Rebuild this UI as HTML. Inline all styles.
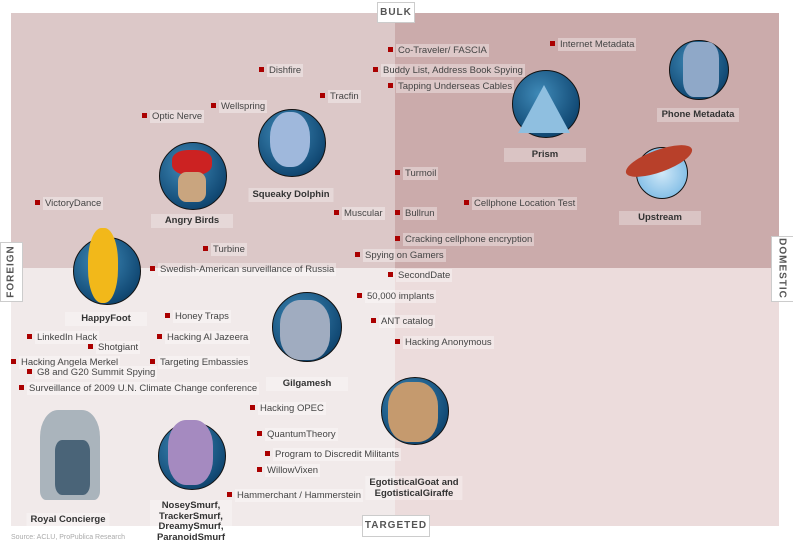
<!DOCTYPE html>
<html><head><meta charset="utf-8"><style>
body{margin:0;width:793px;height:547px;background:#fff;position:relative;overflow:hidden;font-family:"Liberation Sans",sans-serif}
.q{position:absolute}
.l{position:absolute;font-size:9.5px;color:#444;white-space:nowrap;line-height:11px;transform:translateY(-6px)}
.l span{background:rgba(255,255,255,0.35);padding:1px 2px}
.l i{display:inline-block;width:5px;height:5px;background:#a00;margin-right:3px;vertical-align:1px}
.n{position:absolute;font-size:9.5px;font-weight:bold;color:#333;text-align:center;background:rgba(255,255,255,0.3);line-height:12px;padding:1px 4px;transform:translateX(-50%);white-space:nowrap;min-width:74px}
.c{position:absolute;border-radius:50%;background:radial-gradient(circle at 40% 35%,#3f8ab8,#124a75 70%,#0a2a45);border:1px solid #111}
.ax{position:absolute;background:#fff;border:1px solid #ccc;font-size:10px;font-weight:bold;color:#555;letter-spacing:1px;text-align:center}
</style></head><body>
<div class="q" style="left:11px;top:13px;width:384px;height:255px;background:#dcc8c8"></div>
<div class="q" style="left:395px;top:13px;width:384px;height:255px;background:#cbabab"></div>
<div class="q" style="left:11px;top:268px;width:384px;height:258px;background:#f1eaea"></div>
<div class="q" style="left:395px;top:268px;width:384px;height:258px;background:#ecdcdc"></div>

<div class="ax" style="left:377px;top:2px;width:36px;height:19px;line-height:19px">BULK</div>
<div class="ax" style="left:362px;top:515px;width:66px;height:20px;line-height:20px">TARGETED</div>
<div class="ax" style="left:0px;top:242px;width:21px;height:58px"><div style="transform:rotate(-90deg);position:absolute;left:-19px;top:23px;width:58px">FOREIGN</div></div>
<div class="ax" style="left:771px;top:236px;width:21px;height:64px"><div style="transform:rotate(90deg);position:absolute;left:-22px;top:26px;width:64px">DOMESTIC</div></div>

<div class="c" style="left:159px;top:142px;width:66px;height:66px"></div>
<div class="c" style="left:258px;top:109px;width:66px;height:66px"></div>
<div class="c" style="left:512px;top:70px;width:66px;height:66px"></div>
<div class="c" style="left:669px;top:40px;width:58px;height:58px"></div>
<div class="c" style="left:636px;top:147px;width:50px;height:50px;background:radial-gradient(circle,#cfe8f8,#6ab0e0)"></div>
<div class="c" style="left:73px;top:237px;width:66px;height:66px"></div>
<div class="c" style="left:272px;top:292px;width:68px;height:68px"></div>
<div class="c" style="left:158px;top:422px;width:66px;height:66px"></div>
<div class="c" style="left:381px;top:377px;width:66px;height:66px"></div>
<div class="q" style="left:172px;top:150px;width:40px;height:25px;background:#c22;border-radius:40%"></div>
<div class="q" style="left:178px;top:172px;width:28px;height:30px;background:#c9a57f;border-radius:30%"></div>
<div class="q" style="left:270px;top:112px;width:40px;height:55px;background:#9fb8dc;border-radius:45%"></div>
<div class="q" style="left:518px;top:85px;width:52px;height:48px;background:#8fbfe0;clip-path:polygon(50% 0,100% 100%,0 100%)"></div>
<div class="q" style="left:683px;top:42px;width:36px;height:55px;background:#8fa8c8;border-radius:30%"></div>
<div class="q" style="left:624px;top:150px;width:70px;height:22px;background:#b8402a;border-radius:50%;transform:rotate(-20deg)"></div>
<div class="q" style="left:88px;top:228px;width:30px;height:75px;background:#f2b81a;border-radius:45%"></div>
<div class="q" style="left:280px;top:300px;width:50px;height:60px;background:#a0acc0;border-radius:40%"></div>
<div class="q" style="left:168px;top:420px;width:45px;height:65px;background:#a58ac0;border-radius:40%"></div>
<div class="q" style="left:388px;top:382px;width:50px;height:60px;background:#c59a6e;border-radius:40%"></div>
<div class="q" style="left:40px;top:410px;width:60px;height:90px;background:#aab4bc;border-radius:30% 30% 10% 10%"></div>
<div class="q" style="left:55px;top:440px;width:35px;height:55px;background:#4a6478;border-radius:20%"></div>

<div class="n" style="left:192px;top:214px">Angry Birds</div>
<div class="n" style="left:291px;top:188px">Squeaky Dolphin</div>
<div class="n" style="left:545px;top:148px">Prism</div>
<div class="n" style="left:698px;top:108px">Phone Metadata</div>
<div class="n" style="left:660px;top:211px">Upstream</div>
<div class="n" style="left:106px;top:312px">HappyFoot</div>
<div class="n" style="left:307px;top:377px">Gilgamesh</div>
<div class="n" style="left:68px;top:513px">Royal Concierge</div>
<div class="n" style="left:191px;top:500px;line-height:10.5px">NoseySmurf,<br>TrackerSmurf,<br>DreamySmurf,<br>ParanoidSmurf</div>
<div class="n" style="left:414px;top:476px;line-height:11px">EgotisticalGoat and<br>EgotisticalGiraffe</div>

<div class="l" style="left:388px;top:51px"><i></i><span>Co-Traveler/ FASCIA</span></div>
<div class="l" style="left:550px;top:45px"><i></i><span>Internet Metadata</span></div>
<div class="l" style="left:259px;top:71px"><i></i><span>Dishfire</span></div>
<div class="l" style="left:373px;top:71px"><i></i><span>Buddy List, Address Book Spying</span></div>
<div class="l" style="left:388px;top:87px"><i></i><span>Tapping Underseas Cables</span></div>
<div class="l" style="left:320px;top:97px"><i></i><span>Tracfin</span></div>
<div class="l" style="left:211px;top:107px"><i></i><span>Wellspring</span></div>
<div class="l" style="left:142px;top:117px"><i></i><span>Optic Nerve</span></div>
<div class="l" style="left:395px;top:174px"><i></i><span>Turmoil</span></div>
<div class="l" style="left:35px;top:204px"><i></i><span>VictoryDance</span></div>
<div class="l" style="left:334px;top:214px"><i></i><span>Muscular</span></div>
<div class="l" style="left:395px;top:214px"><i></i><span>Bullrun</span></div>
<div class="l" style="left:464px;top:204px"><i></i><span>Cellphone Location Test</span></div>
<div class="l" style="left:395px;top:240px"><i></i><span>Cracking cellphone encryption</span></div>
<div class="l" style="left:203px;top:250px"><i></i><span>Turbine</span></div>
<div class="l" style="left:355px;top:256px"><i></i><span>Spying on Gamers</span></div>
<div class="l" style="left:150px;top:270px"><i></i><span>Swedish-American surveillance of Russia</span></div>
<div class="l" style="left:388px;top:276px"><i></i><span>SecondDate</span></div>
<div class="l" style="left:357px;top:297px"><i></i><span>50,000 implants</span></div>
<div class="l" style="left:165px;top:317px"><i></i><span>Honey Traps</span></div>
<div class="l" style="left:371px;top:322px"><i></i><span>ANT catalog</span></div>
<div class="l" style="left:27px;top:338px"><i></i><span>LinkedIn Hack</span></div>
<div class="l" style="left:157px;top:338px"><i></i><span>Hacking Al Jazeera</span></div>
<div class="l" style="left:395px;top:343px"><i></i><span>Hacking Anonymous</span></div>
<div class="l" style="left:88px;top:348px"><i></i><span>Shotgiant</span></div>
<div class="l" style="left:11px;top:363px"><i></i><span>Hacking Angela Merkel</span></div>
<div class="l" style="left:150px;top:363px"><i></i><span>Targeting Embassies</span></div>
<div class="l" style="left:27px;top:373px"><i></i><span>G8 and G20 Summit Spying</span></div>
<div class="l" style="left:19px;top:389px"><i></i><span>Surveillance of 2009 U.N. Climate Change conference</span></div>
<div class="l" style="left:250px;top:409px"><i></i><span>Hacking OPEC</span></div>
<div class="l" style="left:257px;top:435px"><i></i><span>QuantumTheory</span></div>
<div class="l" style="left:265px;top:455px"><i></i><span>Program to Discredit Militants</span></div>
<div class="l" style="left:257px;top:471px"><i></i><span>WillowVixen</span></div>
<div class="l" style="left:227px;top:496px"><i></i><span>Hammerchant / Hammerstein</span></div>

<div class="q" style="left:11px;top:534px;font-size:7px;color:#aaa">Source: ACLU, ProPublica Research</div>
</body></html>
